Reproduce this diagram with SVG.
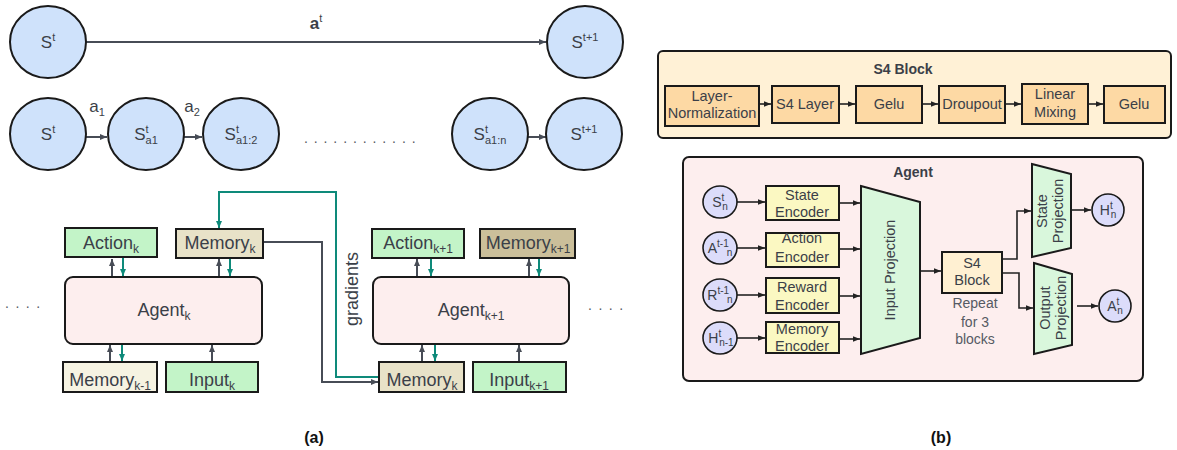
<svg xmlns="http://www.w3.org/2000/svg" width="1177" height="450" viewBox="0 0 1177 450">
<style>
text{font-family:"Liberation Sans",Arial,sans-serif;fill:#3b3f48}
.st{fill:#cfe2fb;stroke:#1a1a1a;stroke-width:2}
.bx{stroke:#1a1a1a;stroke-width:2}
.grn{fill:#c3f4c8}
.mem{fill:#e8e2c8}
.meml{fill:#f6f3e2}
.memd{fill:#cbbf9a}
.ag{fill:#fdeeee}
.conn{stroke:#474c56;stroke-width:2;fill:none}
.teal{stroke:#0e8a7a;stroke-width:2;fill:none}
.bc{stroke:#222;stroke-width:1.6;fill:none}
.t17{font-size:17px}
.t18{font-size:18px}
.t15{font-size:14.5px}
.t14{font-size:14px}
.sm{font-size:11px}
.s12{font-size:12px}
.ss{font-size:10px}
.b{font-weight:bold}
.or{fill:#fdd9a4}
.enc{fill:#fbf8c2}
.prj{fill:#d9f7dc}
.cir{fill:#dcdcfa;stroke:#1a1a1a;stroke-width:1.6}
.dot{fill:#555a63}
.rp{fill:#555a63}
</style>
<defs>
<marker id="ad" markerUnits="userSpaceOnUse" markerWidth="8" markerHeight="8" refX="7" refY="4" orient="auto"><path d="M0,1 L7,4 L0,7 z" fill="#474c56"/></marker>
<marker id="at" markerUnits="userSpaceOnUse" markerWidth="8" markerHeight="8" refX="7" refY="4" orient="auto"><path d="M0,1 L7,4 L0,7 z" fill="#0e8a7a"/></marker>
<marker id="ab" markerUnits="userSpaceOnUse" markerWidth="8" markerHeight="8" refX="7" refY="4" orient="auto"><path d="M0,1.2 L7,4 L0,6.8 z" fill="#222"/></marker>
</defs>

<!-- (b) containers (drawn under connectors) -->
<g id="s4block">
<rect class="bx" fill="#fff1d6" x="658" y="51" width="513" height="87" rx="5"/>
<text class="t14 b" x="903" y="74" text-anchor="middle">S4 Block</text>
</g>
<g id="agent_b">
<rect class="bx ag" x="683" y="157" width="460" height="224" rx="6"/>
<text class="t14 b" x="913" y="177" text-anchor="middle">Agent</text>
</g>

<!-- connectors -->
<g id="connectors">
<line class="conn" x1="86" y1="42" x2="546" y2="42" marker-end="url(#ad)"/>
<line class="conn" x1="86" y1="137" x2="107" y2="137" marker-end="url(#ad)"/>
<line class="conn" x1="184" y1="137" x2="202" y2="137" marker-end="url(#ad)"/>
<line class="conn" x1="528" y1="137" x2="546" y2="137" marker-end="url(#ad)"/>
<line class="conn" x1="112" y1="277" x2="112" y2="259" marker-end="url(#ad)"/>
<line class="teal" x1="123" y1="258" x2="123" y2="276" marker-end="url(#at)"/>
<line class="conn" x1="219" y1="277" x2="219" y2="259" marker-end="url(#ad)"/>
<line class="teal" x1="230" y1="258" x2="230" y2="276" marker-end="url(#at)"/>
<line class="conn" x1="110" y1="362" x2="110" y2="345" marker-end="url(#ad)"/>
<line class="teal" x1="122" y1="344" x2="122" y2="361" marker-end="url(#at)"/>
<line class="conn" x1="212" y1="362" x2="212" y2="345" marker-end="url(#ad)"/>
<line class="conn" x1="417" y1="277" x2="417" y2="259" marker-end="url(#ad)"/>
<line class="teal" x1="431" y1="258" x2="431" y2="276" marker-end="url(#at)"/>
<line class="conn" x1="529" y1="277" x2="529" y2="259" marker-end="url(#ad)"/>
<line class="teal" x1="539" y1="258" x2="539" y2="276" marker-end="url(#at)"/>
<line class="conn" x1="422" y1="362" x2="422" y2="345" marker-end="url(#ad)"/>
<line class="teal" x1="435" y1="344" x2="435" y2="361" marker-end="url(#at)"/>
<line class="conn" x1="519" y1="362" x2="519" y2="345" marker-end="url(#ad)"/>
<path class="conn" d="M263,242 H322 V382 H378" marker-end="url(#ad)"/>
<path class="teal" d="M379,377 H336 V192 H219 V228" marker-end="url(#at)"/>
<line class="bc" x1="759" y1="104" x2="771" y2="104" marker-end="url(#ab)"/>
<line class="bc" x1="839" y1="104" x2="855" y2="104" marker-end="url(#ab)"/>
<line class="bc" x1="922" y1="104" x2="938" y2="104" marker-end="url(#ab)"/>
<line class="bc" x1="1005" y1="104" x2="1021" y2="104" marker-end="url(#ab)"/>
<line class="bc" x1="1088" y1="104" x2="1103" y2="104" marker-end="url(#ab)"/>
<line class="bc" x1="737" y1="202" x2="765" y2="202" marker-end="url(#ab)"/>
<line class="bc" x1="737" y1="248" x2="765" y2="248" marker-end="url(#ab)"/>
<line class="bc" x1="737" y1="295" x2="765" y2="295" marker-end="url(#ab)"/>
<line class="bc" x1="737" y1="338" x2="765" y2="338" marker-end="url(#ab)"/>
<line class="bc" x1="839" y1="203" x2="860" y2="203" marker-end="url(#ab)"/>
<line class="bc" x1="839" y1="249" x2="860" y2="249" marker-end="url(#ab)"/>
<line class="bc" x1="839" y1="296" x2="860" y2="296" marker-end="url(#ab)"/>
<line class="bc" x1="839" y1="339" x2="860" y2="339" marker-end="url(#ab)"/>
<line class="bc" x1="920" y1="271" x2="941" y2="271" marker-end="url(#ab)"/>
<path class="bc" d="M1002,259 H1017 V211 H1031" marker-end="url(#ab)"/>
<path class="bc" d="M1002,273 H1019 V308 H1033" marker-end="url(#ab)"/>
<line class="bc" x1="1071" y1="210" x2="1091" y2="210" marker-end="url(#ab)"/>
<line class="bc" x1="1077" y1="306" x2="1098" y2="306" marker-end="url(#ab)"/>
</g>

<!-- top row states -->
<g id="s_top_t"><ellipse class="st" cx="48" cy="42" rx="38" ry="36"/><text class="t17" x="48" y="48" text-anchor="middle">S<tspan class="sm" dy="-7">t</tspan></text></g>
<g id="s_top_t1"><ellipse class="st" cx="585" cy="42" rx="38" ry="36"/><text class="t17" x="585" y="48" text-anchor="middle">S<tspan class="sm" dy="-7">t+1</tspan></text></g>
<g id="lbl_at"><text class="t17" x="316" y="29" text-anchor="middle"><tspan class="b">a</tspan><tspan class="sm" dy="-7">t</tspan></text></g>

<!-- bottom row states -->
<g id="s_bot_t"><ellipse class="st" cx="48" cy="134" rx="38" ry="36"/><text class="t17" x="48" y="140" text-anchor="middle">S<tspan class="sm" dy="-7">t</tspan></text></g>
<g id="s_a1"><ellipse class="st" cx="146" cy="134" rx="38" ry="36"/><text class="t17" x="146" y="140" text-anchor="middle">S<tspan class="sm" dy="-7">t</tspan><tspan class="sm" dx="-3" dy="11">a1</tspan></text></g>
<g id="s_a12"><ellipse class="st" cx="241" cy="134" rx="38" ry="36"/><text class="t17" x="241" y="140" text-anchor="middle">S<tspan class="sm" dy="-7">t</tspan><tspan class="sm" dx="-3" dy="11">a1:2</tspan></text></g>
<g id="s_a1n"><ellipse class="st" cx="490" cy="134" rx="38" ry="36"/><text class="t17" x="490" y="140" text-anchor="middle">S<tspan class="sm" dy="-7">t</tspan><tspan class="sm" dx="-3" dy="11">a1:n</tspan></text></g>
<g id="s_bot_t1"><ellipse class="st" cx="584" cy="134" rx="38" ry="36"/><text class="t17" x="584" y="140" text-anchor="middle">S<tspan class="sm" dy="-7">t+1</tspan></text></g>
<g id="lbl_a1"><text class="t17" x="97" y="112" text-anchor="middle">a<tspan class="sm" dy="4">1</tspan></text></g>
<g id="lbl_a2"><text class="t17" x="192" y="112" text-anchor="middle">a<tspan class="sm" dy="4">2</tspan></text></g>
<g id="dots_mid"><text class="t14 dot" x="304" y="143" letter-spacing="5.9">............</text></g>

<!-- agent k -->
<g id="dots_left"><text class="t14 dot" x="5" y="308" letter-spacing="6.5">....</text></g>
<g id="action_k"><rect class="bx grn" x="65" y="228" width="92" height="29"/><text class="t18" x="111" y="249" text-anchor="middle">Action<tspan class="s12" dy="4">k</tspan></text></g>
<g id="memory_k_top"><rect class="bx mem" x="176" y="229" width="87" height="29"/><text class="t18" x="220" y="249" text-anchor="middle">Memory<tspan class="s12" dy="4">k</tspan></text></g>
<g id="agent_k"><rect class="bx ag" x="65" y="277" width="197" height="67" rx="8"/><text class="t18" x="164" y="316" text-anchor="middle">Agent<tspan class="s12" dy="4">k</tspan></text></g>
<g id="memory_km1"><rect class="bx meml" x="63" y="362" width="94" height="30"/><text class="t18" x="110" y="386" text-anchor="middle">Memory<tspan class="s12" dy="4">k-1</tspan></text></g>
<g id="input_k"><rect class="bx grn" x="166" y="362" width="92" height="30"/><text class="t18" x="212" y="386" text-anchor="middle">Input<tspan class="s12" dy="4">k</tspan></text></g>

<g id="gradients_lbl"><text class="t18" transform="translate(358,289) rotate(-90)" text-anchor="middle">gradients</text></g>

<!-- agent k+1 -->
<g id="action_k1"><rect class="bx grn" x="372" y="229" width="92" height="29"/><text class="t18" x="418" y="249" text-anchor="middle">Action<tspan class="s12" dy="4">k+1</tspan></text></g>
<g id="memory_k1"><rect class="bx memd" x="480" y="229" width="95" height="29"/><text class="t18" x="528" y="249" text-anchor="middle">Memory<tspan class="s12" dy="4">k+1</tspan></text></g>
<g id="agent_k1"><rect class="bx ag" x="373" y="277" width="196" height="67" rx="8"/><text class="t18" x="471" y="316" text-anchor="middle">Agent<tspan class="s12" dy="4">k+1</tspan></text></g>
<g id="memory_k_bot"><rect class="bx mem" x="379" y="362" width="85" height="30"/><text class="t18" x="422" y="386" text-anchor="middle">Memory<tspan class="s12" dy="4">k</tspan></text></g>
<g id="input_k1"><rect class="bx grn" x="473" y="362" width="93" height="30"/><text class="t18" x="519" y="386" text-anchor="middle">Input<tspan class="s12" dy="4">k+1</tspan></text></g>
<g id="dots_right"><text class="t14 dot" x="588" y="310" letter-spacing="6.5">....</text></g>

<!-- (b) S4 block contents -->
<g id="layernorm"><rect class="bx or" x="665" y="86" width="94" height="40"/><text class="t15" x="712" y="101" text-anchor="middle">Layer-</text><text class="t15" x="712" y="118" text-anchor="middle">Normalization</text></g>
<g id="s4layer"><rect class="bx or" x="772" y="86" width="67" height="37"/><text class="t15" x="805" y="109" text-anchor="middle">S4 Layer</text></g>
<g id="gelu1"><rect class="bx or" x="856" y="86" width="66" height="37"/><text class="t15" x="889" y="109" text-anchor="middle">Gelu</text></g>
<g id="dropout"><rect class="bx or" x="939" y="86" width="66" height="37"/><text class="t15" x="972" y="109" text-anchor="middle">Droupout</text></g>
<g id="linmix"><rect class="bx or" x="1022" y="84" width="66" height="40"/><text class="t15" x="1055" y="99" text-anchor="middle">Linear</text><text class="t15" x="1055" y="117" text-anchor="middle">Mixing</text></g>
<g id="gelu2"><rect class="bx or" x="1104" y="86" width="61" height="37"/><text class="t15" x="1134" y="109" text-anchor="middle">Gelu</text></g>

<!-- (b) agent contents -->
<g id="c_s"><ellipse class="cir" cx="720" cy="202" rx="17" ry="16"/><text class="t14" x="720" y="207" text-anchor="middle">S<tspan class="ss" dy="-6">t</tspan><tspan class="ss" dx="-2" dy="9">n</tspan></text></g>
<g id="c_a"><ellipse class="cir" cx="720" cy="248" rx="17" ry="16"/><text class="t14" x="720" y="253" text-anchor="middle">A<tspan class="ss" dy="-6">t-1</tspan><tspan class="ss" dx="-2" dy="9">n</tspan></text></g>
<g id="c_r"><ellipse class="cir" cx="720" cy="295" rx="17" ry="16"/><text class="t14" x="720" y="300" text-anchor="middle">R<tspan class="ss" dy="-6">t-1</tspan><tspan class="ss" dx="-2" dy="9">n</tspan></text></g>
<g id="c_h"><ellipse class="cir" cx="720" cy="338" rx="17" ry="16"/><text class="t14" x="721" y="343" text-anchor="middle">H<tspan class="ss" dy="-6">t</tspan><tspan class="ss" dx="-2" dy="9">n-1</tspan></text></g>
<g id="enc_state"><rect class="bx enc" x="766" y="186" width="73" height="34"/><text class="t15" x="802" y="200" text-anchor="middle">State</text><text class="t15" x="802" y="217" text-anchor="middle">Encoder</text></g>
<g id="enc_action"><rect class="bx enc" x="766" y="233" width="73" height="34"/><text class="t15" x="802" y="243" text-anchor="middle">Action</text><text class="t15" x="802" y="262" text-anchor="middle">Encoder</text></g>
<g id="enc_reward"><rect class="bx enc" x="766" y="278" width="73" height="35"/><text class="t15" x="802" y="292" text-anchor="middle">Reward</text><text class="t15" x="802" y="310" text-anchor="middle">Encoder</text></g>
<g id="enc_memory"><rect class="bx enc" x="766" y="322" width="73" height="31"/><text class="t15" x="802" y="334" text-anchor="middle">Memory</text><text class="t15" x="802" y="351" text-anchor="middle">Encoder</text></g>
<g id="input_proj"><polygon class="bx prj" points="861,186 920,202 920,338 861,354"/><text class="t15" transform="translate(895,270) rotate(-90)" text-anchor="middle">Input Projection</text></g>
<g id="s4_small"><rect class="bx" fill="#fff0d2" x="942" y="252" width="60" height="41"/><text class="t15" x="972" y="268" text-anchor="middle">S4</text><text class="t15" x="972" y="285" text-anchor="middle">Block</text></g>
<g id="repeat_lbl"><text class="t14 rp" x="975" y="308" text-anchor="middle">Repeat</text><text class="t14 rp" x="975" y="327" text-anchor="middle">for 3</text><text class="t14 rp" x="975" y="344" text-anchor="middle">blocks</text></g>
<g id="state_proj"><polygon class="bx prj" points="1032,164 1071,174 1071,248 1032,257"/><text class="t15" transform="translate(1047,211) rotate(-90)" text-anchor="middle"><tspan x="0" y="0">State</tspan><tspan x="0" y="16">Projection</tspan></text></g>
<g id="output_proj"><polygon class="bx prj" points="1034,263 1072,274 1072,345 1034,354"/><text class="t15" transform="translate(1050,308) rotate(-90)" text-anchor="middle"><tspan x="0" y="0">Output</tspan><tspan x="0" y="16">Projection</tspan></text></g>
<g id="c_hout"><ellipse class="cir" cx="1108" cy="210" rx="16" ry="16"/><text class="t14" x="1108" y="215" text-anchor="middle">H<tspan class="ss" dy="-6">t</tspan><tspan class="ss" dx="-2" dy="9">n</tspan></text></g>
<g id="c_aout"><ellipse class="cir" cx="1115" cy="306" rx="16" ry="16"/><text class="t14" x="1115" y="311" text-anchor="middle">A<tspan class="ss" dy="-6">t</tspan><tspan class="ss" dx="-2" dy="9">n</tspan></text></g>

<g id="captions">
<text class="b" font-size="16" x="314" y="443" text-anchor="middle" style="fill:#111">(a)</text>
<text class="b" font-size="16" x="941" y="443" text-anchor="middle" style="fill:#111">(b)</text>
</g>
</svg>
